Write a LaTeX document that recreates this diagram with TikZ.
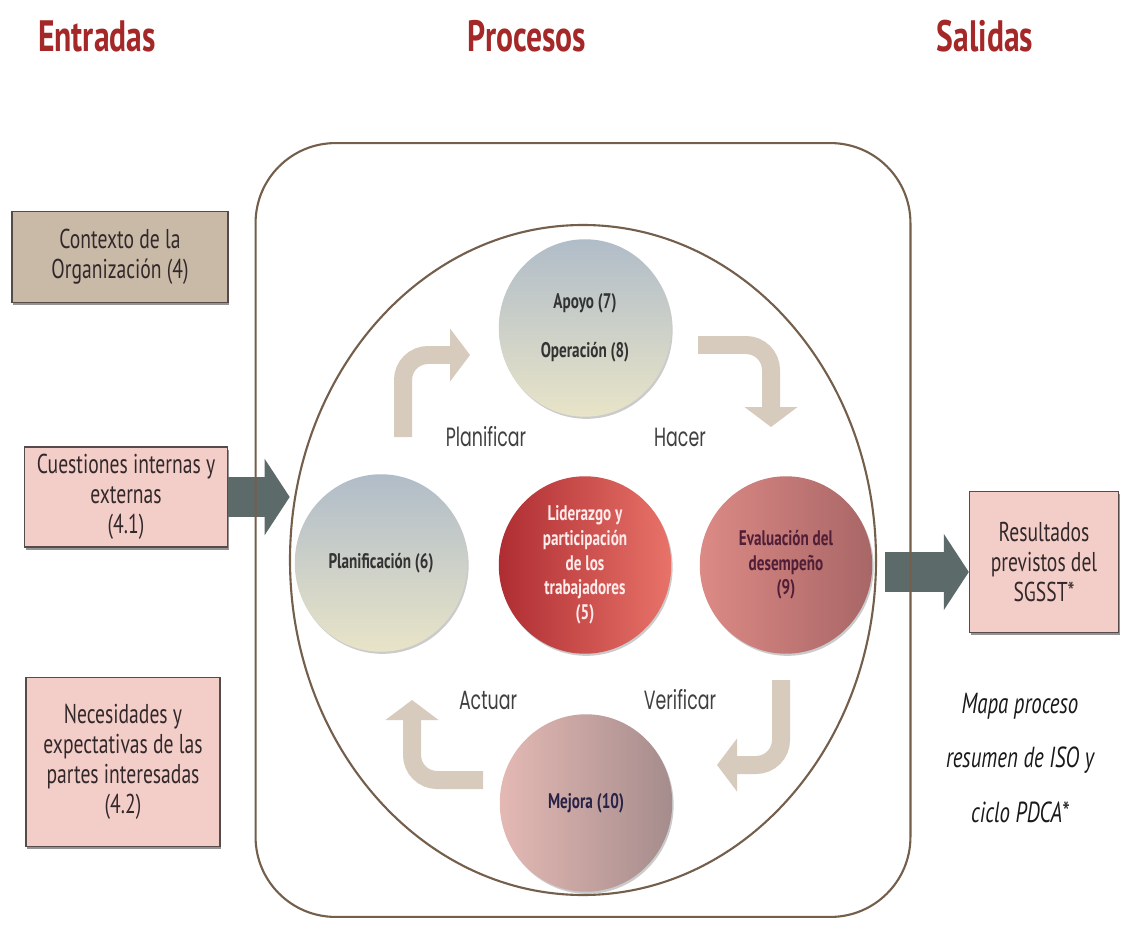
\documentclass[tikz,border=0pt]{standalone}
\usepackage{fontspec}
\setmainfont{PT Sans}[FakeStretch=0.72]
\newfontfamily\pdcafont{Poppins}[FakeStretch=0.66]
\usetikzlibrary{calc,shapes.geometric,arrows.meta,shadows}

\definecolor{headred}{RGB}{165,40,40}
\definecolor{boxtext}{RGB}{50,40,42}
\definecolor{boxline}{RGB}{85,75,75}
\definecolor{tanbox}{RGB}{201,186,168}
\definecolor{pinkbox}{RGB}{243,206,200}
\definecolor{bigarrow}{RGB}{93,106,106}
\definecolor{cyctan}{RGB}{214,203,188}
\definecolor{frame}{RGB}{115,95,75}
\definecolor{bluetop}{RGB}{176,188,200}
\definecolor{bluebot}{RGB}{232,228,200}
\definecolor{lidleft}{RGB}{175,45,50}
\definecolor{lidright}{RGB}{232,115,105}
\definecolor{evalleft}{RGB}{220,138,133}
\definecolor{evalright}{RGB}{168,102,102}
\definecolor{mejleft}{RGB}{228,185,180}
\definecolor{mejright}{RGB}{165,140,140}

\begin{document}
\begin{tikzpicture}[x=0.02cm,y=-0.02cm,
  title/.style={text=headred,font=\fontsize{25}{28}\selectfont\bfseries},
  inbox/.style={draw=boxline,line width=0.8pt,text=boxtext,align=center,
    font=\fontsize{15.5}{17}\selectfont,inner sep=2pt,
    drop shadow={shadow xshift=0.6pt,shadow yshift=-1.6pt,fill=black!70,opacity=0.6}},
  phase/.style={shape=ellipse,minimum width=3.45cm,minimum height=3.55cm,inner sep=0pt,
    align=center,font=\fontsize{12}{14}\selectfont\bfseries,
    drop shadow={shadow xshift=0.8pt,shadow yshift=-1.2pt,fill=black!40,opacity=0.5}},
  pdca/.style={text=black!75,font=\pdcafont\fontsize{15}{17}\selectfont},
  cyc/.style={draw=cyctan,line width=0.36cm,rounded corners=0.5cm,
    -{Triangle[length=0.4cm,width=1.04cm]}},
  flow/.style={draw=bigarrow,line width=0.8cm,-{Triangle[length=0.5cm,width=1.5cm]}}
]
  \useasboundingbox[fill=white] (0,0) rectangle (1121,925);

  \node[title] (tin) at (97,36) {Entradas};
  \node[title] (tproc) at (527,36) {Procesos};
  \node[title] (tout) at (985,36) {Salidas};

  \node[inbox,fill=tanbox,minimum width=4.32cm,minimum height=1.82cm] (ctx) at (120,257)
    {Contexto de la\\Organización (4)};
  \node[inbox,fill=pinkbox,minimum width=4.06cm,minimum height=2cm] (cuest) at (126,497)
    {Cuestiones internas y\\externas\\(4.1)};
  \node[inbox,fill=pinkbox,minimum width=3.88cm,minimum height=3.38cm] (nec) at (123,762)
    {Necesidades y\\expectativas de las\\partes interesadas\\(4.2)};
  \node[inbox,fill=pinkbox,minimum width=2.98cm,minimum height=2.82cm] (res) at (1044,562)
    {Resultados\\previstos del\\SGSST*};

  \node[shape=ellipse,minimum width=11.72cm,minimum height=13.4cm,inner sep=0pt] (ciclo) at (583,560) {};

  \draw[flow] (cuest.east) -- (cuest.east -| ciclo.west);
  \draw[flow] ($(ciclo.east)+(9,12)$) -- ($(res.west)+(0,10)$);

  \node[draw=frame,line width=1.2pt,rounded corners=1.6cm,minimum width=13.1cm,minimum height=15.48cm] (proc) at (583,530) {};
  \draw[frame,line width=1.2pt] (ciclo.center) ellipse [x radius=293,y radius=335];

  \node[phase,top color=bluetop,bottom color=bluebot,text=black!80] (apoyo) at (585,328)
    {Apoyo (7)\\[14pt]Operación (8)};
  \node[phase,top color=bluetop,bottom color=bluebot,text=black!80] (plan) at (381,563)
    {Planificación (6)};
  \node[phase,left color=lidleft,right color=lidright,text=red!8] (lid) at (585,565)
    {Liderazgo y\\participación\\de los\\trabajadores\\(5)};
  \node[phase,left color=evalleft,right color=evalright,text={rgb,255:red,80;green,30;blue,55}] (eval) at (786,565)
    {Evaluación del\\desempeño\\(9)};
  \node[phase,left color=mejleft,right color=mejright,text={rgb,255:red,40;green,35;blue,70}] (mej) at (586,803)
    {Mejora (10)};

  \coordinate (plA) at (403,437);
  \coordinate (plB) at (470,355);
  \coordinate (haA) at (698,345);
  \coordinate (haB) at (771,427);
  \coordinate (veA) at (781,680);
  \coordinate (veB) at (717,765);
  \coordinate (acA) at (483,780);
  \coordinate (acB) at (412,700);
  \draw[cyc] (plA) |- (plB);
  \draw[cyc] (haA) -| (haB);
  \draw[cyc] (veA) |- (veB);
  \draw[cyc] (acA) -| (acB);

  \node[pdca] (lpl) at (486,437) {Planificar};
  \node[pdca] (lha) at (680,437) {Hacer};
  \node[pdca] (lac) at (488,700) {Actuar};
  \node[pdca] (lve) at (680,700) {Verificar};

  \node[align=center,font=\fontsize{16.5}{31}\selectfont\itshape,text=black!90] (nota) at (1020,758)
    {Mapa proceso\\resumen de ISO y\\ciclo PDCA*};
\end{tikzpicture}
\end{document}
